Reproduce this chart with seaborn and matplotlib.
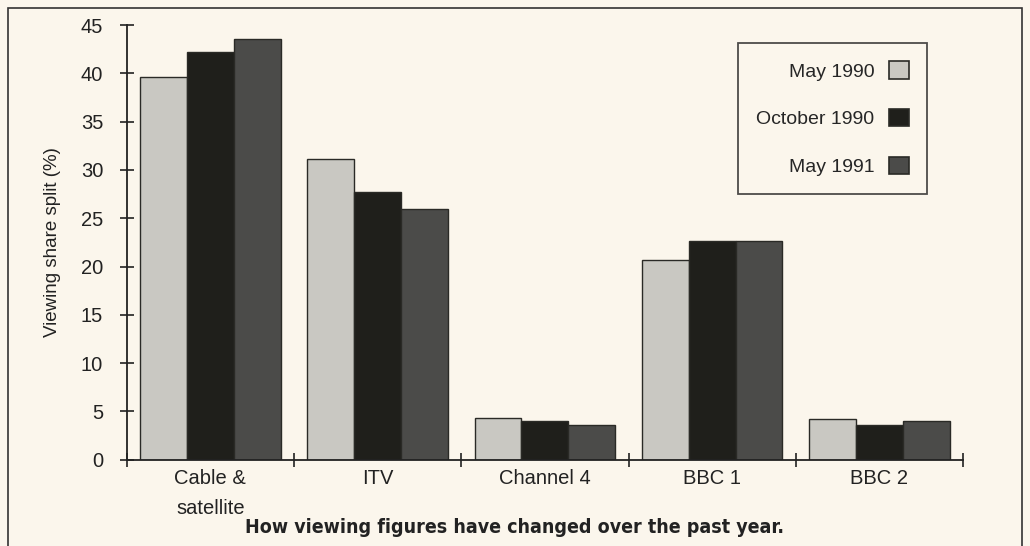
import matplotlib
matplotlib.use("Agg")
import matplotlib.pyplot as plt
import matplotlib.patches as mpatches
import seaborn as sns
import pandas as pd
import numpy as np

categories = ["Cable &\nsatellite", "ITV", "Channel 4", "BBC 1", "BBC 2"]
series = ["May 1990", "October 1990", "May 1991"]
may_1990 = [39.6, 31.1, 4.3, 20.7, 4.2]
oct_1990 = [42.2, 27.7, 4.0, 22.6, 3.6]
may_1991 = [43.6, 26.0, 3.6, 22.6, 4.0]
colors = ["#c9c8c2", "#1f1f1b", "#4b4b49"]

rows = []
for name, vals in zip(series, [may_1990, oct_1990, may_1991]):
    for c, v in zip(categories, vals):
        rows.append({"channel": c, "period": name, "share": v})
df = pd.DataFrame(rows)

sns.set_theme(style="white")
plt.rcParams["font.family"] = ["Liberation Sans", "DejaVu Sans"]
bg = "#fbf6ec"
ink = "#222222"
fig = plt.figure(figsize=(10.3, 5.46), dpi=100, facecolor=bg)
ax = fig.add_axes([0.123, 0.158, 0.812, 0.796])
ax.set_facecolor(bg)

sns.barplot(data=df, x="channel", y="share", hue="period", order=categories,
            hue_order=series, palette=colors, width=0.84, ax=ax,
            edgecolor="#2a2a26", linewidth=1.0, saturation=1, legend=False)

ax.set_ylim(0, 45)
ax.set_xlim(-0.5, 4.5)
ax.set_yticks(range(0, 46, 5))
ax.tick_params(axis="y", which="major", left=True, direction="inout", length=10,
               width=1.2, color=ink, labelcolor=ink, labelsize=14.5, pad=12)
ax.set_xticks(range(5))
ax.set_xticks(np.arange(-0.5, 4.6, 1), minor=True)
ax.tick_params(axis="x", which="major", bottom=False, length=0, labelsize=14.5,
               pad=7, labelcolor=ink)
ax.tick_params(axis="x", which="minor", bottom=True, direction="inout", length=10,
               width=1.2, color=ink)
for lbl in ax.get_xticklabels():
    lbl.set_linespacing(1.7)
for s in ["top", "right"]:
    ax.spines[s].set_visible(False)
for s in ["left", "bottom"]:
    ax.spines[s].set_color(ink)
    ax.spines[s].set_linewidth(1.3)

ax.set_ylabel("Viewing share split (%)", fontsize=13.5, color=ink)
ax.yaxis.set_label_coords(-0.078, 0.5)
ax.set_xlabel("How viewing figures have changed over the past year.",
              fontsize=14, fontweight="bold", fontstretch="condensed",
              family=["DejaVu Sans", "Liberation Sans"], color=ink)
ax.xaxis.set_label_coords(0.464, -0.133)

handles = [mpatches.Patch(facecolor=c, edgecolor="#2a2a26", linewidth=1.2, label=l)
           for c, l in zip(colors, series)]
leg = ax.legend(handles=handles, loc="upper right",
                bbox_to_anchor=(927 / 1030, 1 - 43 / 546),
                bbox_transform=fig.transFigure,
                markerfirst=False, frameon=True, fontsize=14, handlelength=1.0,
                handleheight=1.0, labelspacing=1.45, borderpad=0.95, handletextpad=0.75,
                fancybox=False, alignment="right", borderaxespad=0)
leg.get_frame().set_edgecolor(ink)
leg.get_frame().set_linewidth(1.3)
leg.get_frame().set_facecolor(bg)
for t in leg.get_texts():
    t.set_ha("right")

frame = mpatches.Rectangle((8 / 1030, -0.02), 1014 / 1030, 1 - 8 / 546 + 0.02,
                           transform=fig.transFigure, fill=False,
                           edgecolor="#333333", linewidth=1.2)
fig.patches.append(frame)

fig.savefig("out.png", dpi=100, facecolor=bg)
